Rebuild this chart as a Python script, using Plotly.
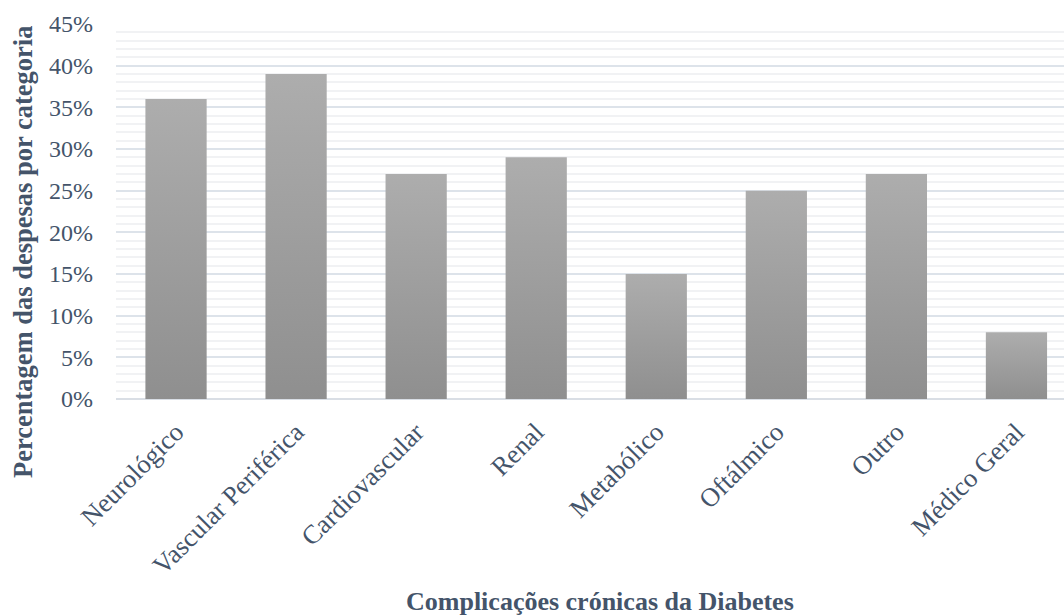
import plotly.graph_objects as go

# Chronic diabetes complication categories and their share of spending (%)
categorias = ["Neurológico", "Vascular Periférica", "Cardiovascular", "Renal",
              "Metabólico", "Oftálmico", "Outro", "Médico Geral"]
percentagens = [36, 39, 27, 29, 15, 25, 27, 8]
y_ticks = [0, 5, 10, 15, 20, 25, 30, 35, 40, 45]
y_tick_labels = [f"{v}%" for v in y_ticks]

TEXT = "#44546A"
SERIF = "Liberation Serif, Times New Roman, serif"
BAR_W = 0.51

fig = go.Figure()

# Each column is a filled polygon so it can carry a vertical gray gradient
for i, (cat, val) in enumerate(zip(categorias, percentagens)):
    x0, x1 = i - BAR_W / 2, i + BAR_W / 2
    fig.add_trace(go.Scatter(
        x=[x0, x1, x1, x0, x0],
        y=[0, 0, val, val, 0],
        mode="lines",
        line=dict(width=0),
        fill="toself",
        fillgradient=dict(type="vertical", start=0, stop=val,
                          colorscale=[[0, "#8f8f8f"], [1, "#adadad"]]),
        name=cat,
        hoverinfo="skip",
        showlegend=False,
    ))

fig.update_layout(
    width=1064, height=615,
    margin=dict(l=116, r=0, t=24, b=216),
    paper_bgcolor="white", plot_bgcolor="white",
    font=dict(family=SERIF, color=TEXT, size=24),
    xaxis=dict(
        range=[-0.5, 7.396],
        tickmode="array",
        tickvals=list(range(len(categorias))),
        ticktext=categorias,
        tickangle=-45,
        ticks="outside", ticklen=6, tickcolor="rgba(0,0,0,0)",
        tickfont=dict(family=SERIF, size=26.5, color=TEXT),
        showgrid=False, zeroline=False, showline=False,
    ),
    yaxis=dict(
        range=[0, 45],
        tickmode="array",
        tickvals=y_ticks,
        ticktext=y_tick_labels,
        tickfont=dict(family=SERIF, size=24, color=TEXT),
        ticklabelstandoff=22,
        showgrid=True, gridcolor="#dde3ea", gridwidth=1.5,
        minor=dict(dtick=1, showgrid=True, gridcolor="#f1f2f4", gridwidth=1.5),
        zeroline=True, zerolinecolor="#d9dee5", zerolinewidth=1.5,
        showline=False,
        layer="below traces",
    ),
    annotations=[
        dict(text="<b>Percentagem das despesas por categoria</b>",
             xref="paper", yref="paper", x=-0.0981, y=0.392,
             xanchor="center", yanchor="middle", textangle=-90,
             showarrow=False, font=dict(family=SERIF, size=26.5, color=TEXT)),
        dict(text="<b>Complicações crónicas da Diabetes</b>",
             xref="paper", yref="paper", x=0.5106, y=-0.539,
             xanchor="center", yanchor="middle",
             showarrow=False, font=dict(family=SERIF, size=26, color=TEXT)),
    ],
)

fig.write_html("out.html")
